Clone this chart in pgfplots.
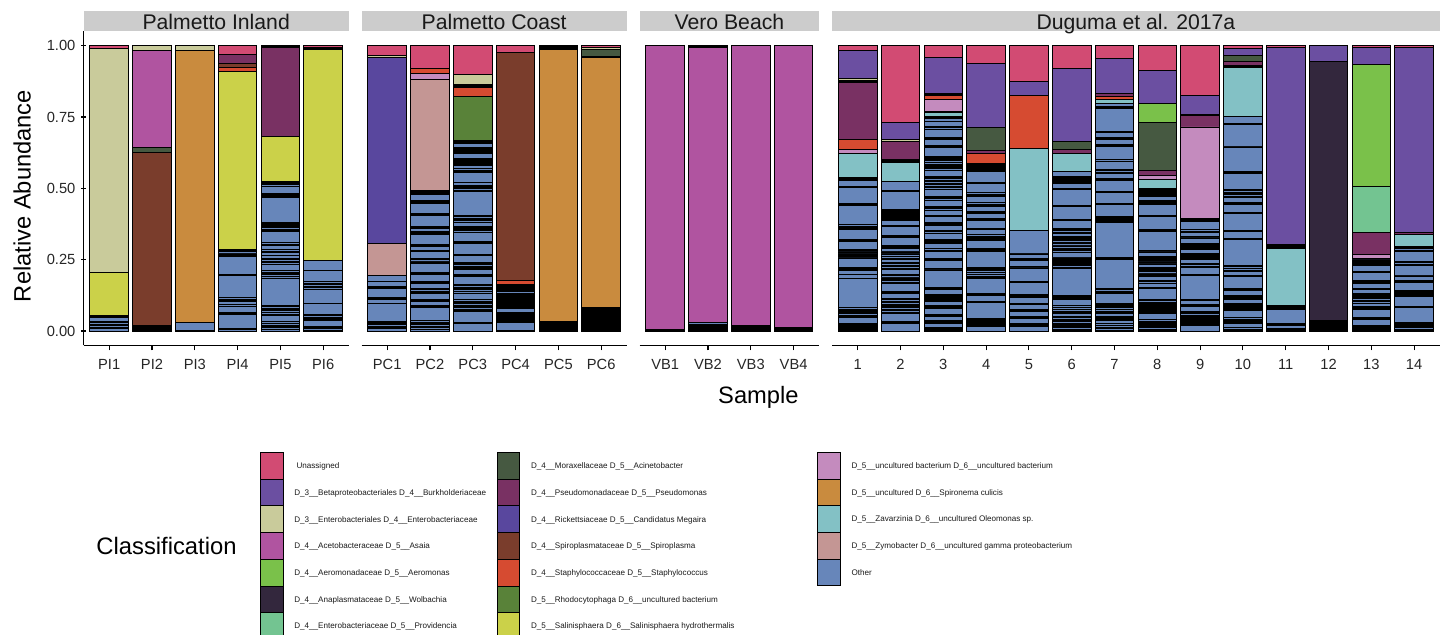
\documentclass[border=0pt]{standalone}
\usepackage{fontspec}
\setmainfont{Liberation Sans}
\usepackage{pgfplots}
\usepackage{pgfplotstable}
\pgfplotsset{compat=1.18}

\definecolor{cuna}{HTML}{D24B73}
\definecolor{cbet}{HTML}{6B4FA1}
\definecolor{cent}{HTML}{C9CB9B}
\definecolor{casa}{HTML}{B054A0}
\definecolor{caer}{HTML}{7AC14A}
\definecolor{cwol}{HTML}{33273D}
\definecolor{cpro}{HTML}{73C491}
\definecolor{caci}{HTML}{465941}
\definecolor{cpse}{HTML}{793163}
\definecolor{cmeg}{HTML}{59479E}
\definecolor{cspi}{HTML}{7A3D2C}
\definecolor{csta}{HTML}{D64B31}
\definecolor{crho}{HTML}{598239}
\definecolor{csal}{HTML}{CBD149}
\definecolor{cunc}{HTML}{C48BBE}
\definecolor{cspir}{HTML}{C98B3E}
\definecolor{czav}{HTML}{83C1C5}
\definecolor{czym}{HTML}{C49694}
\definecolor{coth}{HTML}{6786BA}

\newcount\pk
\newcount\pmax
\newcommand\setothers[2]{%
  \global\pk=0
  \foreach \v in {#2}{%
    \global\advance\pk by 1
    \expandafter\xdef\csname oth@#1@\the\pk\endcsname{\v}}%
  \expandafter\xdef\csname oth@#1@n\endcsname{\the\pk}}

\newcommand\drawothers[1]{%
  \global\pmax=0
  \foreach \bn in {#1}{%
    \ifnum\csname oth@\bn @n\endcsname>\pmax\relax
      \global\pmax=\csname oth@\bn @n\endcsname\relax
    \fi}%
  \edef\othlist{1,...,\the\pmax}%
  \expandafter\pgfplotsinvokeforeach\expandafter{\othlist}{%
    \gdef\coords{}%
    \foreach \bn [count=\i] in {#1}{%
      \ifcsname oth@\bn @##1\endcsname
        \xdef\coords{\coords (\i,\csname oth@\bn @##1\endcsname)}%
      \else
        \xdef\coords{\coords (\i,0)}%
      \fi}%
    \edef\tmp{\noexpand\addplot[oth] coordinates {\coords};}\tmp
  }%
}

\newcommand\drawnamed[1]{%
  \pgfplotsinvokeforeach{zym,zav,spir,unc,sal,rho,sta,spi,meg,pse,aci,pro,wol,aer,asa,ent,bet,una}{%
    \addplot[seg,fill=c##1] table[x=x,y=##1]{#1};}%
}

\newcommand\strip[1]{%
  \fill[black!20] (rel axis cs:0,1) rectangle ([yshift=10.3pt]rel axis cs:1,1)
    ([yshift=0.7pt]rel axis cs:0.5,1) node[anchor=base,inner sep=0pt,font=\fontsize{10.6}{12}\selectfont,text=black!90] {#1};
}

% ---------------- Palmetto Inland ----------------
\pgfplotstableread{
x zym zav spir unc sal rho sta spi meg pse aci pro wol aer asa ent bet una
1 0 0 0 0 0.152 0 0 0 0 0 0 0 0 0 0 0.784 0 0.010
2 0 0 0 0 0 0 0 0.606 0 0 0.017 0 0 0 0.342 0.016 0 0
3 0 0 0.952 0 0 0 0 0 0 0 0 0 0 0 0 0.018 0 0
4 0 0 0 0 0.625 0 0.012 0.015 0 0.031 0 0 0 0 0 0 0 0.031
5 0 0 0 0 0.160 0 0 0 0 0.311 0 0 0 0 0 0 0.003 0.003
6 0 0 0 0 0.741 0 0 0 0 0 0 0 0 0 0.004 0.004 0 0.005
}\tabPI
\setothers{PIa}{0.009,0.005,0.004,0.006,0.005,0.004,0.015,0.003,0.003}
\setothers{PIb}{0.003,0.002,0.002,0.003,0.002,0.002,0.002,0.003}
\setothers{PIc}{0.002,0.028}
\setothers{PId}{0.004,0.005,0.050,0.002,0.003,0.021,0.002,0.007,0.008,0.004,0.005,0.005,0.079,0.002,0.063,0.004,0.006,0.003,0.005,0.004,0.004}
\setothers{PIe}{0.004,0.003,0.006,0.003,0.004,0.008,0.004,0.003,0.020,0.004,0.005,0.008,0.004,0.003,0.008,0.004,0.095,0.004,0.003,0.005,0.004,0.003,0.007,0.021,0.006,0.004,0.009,0.003,0.011,0.008,0.004,0.008,0.015,0.003,0.005,0.041,0.004,0.003,0.005,0.003,0.004,0.003,0.004,0.003,0.088,0.004,0.003,0.004,0.003,0.027,0.004,0.004,0.003,0.004}
\setothers{PIf}{0.003,0.006,0.003,0.003,0.021,0.004,0.005,0.003,0.006,0.005,0.037,0.050,0.005,0.004,0.007,0.004,0.007,0.040,0.033}

% ---------------- Palmetto Coast ----------------
\pgfplotstableread{
x zym zav spir unc sal rho sta spi meg pse aci pro wol aer asa ent bet una
1 0.113 0 0 0 0 0 0 0 0.652 0 0 0 0 0 0 0.008 0 0.033
2 0.391 0 0 0.018 0 0 0.020 0 0 0 0 0 0 0 0 0 0 0.079
3 0 0 0 0 0 0.154 0.030 0 0.003 0.004 0.003 0 0 0 0 0.035 0 0.102
4 0 0 0 0 0 0 0.015 0.798 0 0 0 0 0 0 0 0 0 0.023
5 0 0 0.954 0 0 0 0 0.004 0 0 0 0 0 0 0 0.003 0.003 0.003
6 0 0 0.877 0 0 0 0 0 0 0.004 0.026 0 0 0 0 0.004 0 0.007
}\tabPC
\setothers{PCa}{0.009,0.003,0.003,0.009,0.004,0.003,0.004,0.063,0.012,0.003,0.003,0.033,0.003,0.003,0.018,0.021}
\setothers{PCb}{0.004,0.003,0.005,0.004,0.006,0.004,0.005,0.005,0.046,0.003,0.003,0.015,0.003,0.003,0.023,0.004,0.003,0.005,0.006,0.018,0.003,0.003,0.023,0.004,0.004,0.033,0.004,0.003,0.005,0.005,0.023,0.003,0.003,0.012,0.003,0.003,0.035,0.004,0.006,0.003,0.008,0.004,0.004,0.040,0.004,0.003,0.035,0.004,0.003,0.004,0.018,0.004,0.003,0.004,0.004}
\setothers{PCc}{0.025,0.002,0.003,0.039,0.004,0.003,0.006,0.003,0.004,0.008,0.003,0.004,0.005,0.003,0.021,0.004,0.003,0.005,0.003,0.006,0.004,0.004,0.029,0.003,0.003,0.018,0.004,0.003,0.006,0.004,0.005,0.004,0.023,0.003,0.003,0.036,0.003,0.004,0.034,0.004,0.005,0.003,0.004,0.004,0.012,0.003,0.004,0.005,0.003,0.006,0.005,0.084,0.004,0.006,0.003,0.005,0.004,0.008,0.035,0.004,0.004,0.006,0.012,0.002,0.003,0.002,0.003,0.002,0.003,0.002,0.003,0.003,0.003,0.015,0.002,0.003,0.002,0.003,0.003,0.002,0.003,0.002,0.003,0.012,0.004,0.004,0.005}
\setothers{PCd}{0.003,0.027,0.003,0.003,0.003,0.003,0.003,0.003,0.003,0.003,0.003,0.003,0.003,0.003,0.012,0.003,0.003,0.003,0.003,0.003,0.003,0.003,0.003,0.003,0.003,0.003,0.003,0.003,0.003,0.003,0.003,0.003,0.002,0.006,0.003,0.003,0.003,0.003,0.003,0.003,0.003,0.003,0.002}
\setothers{PCe}{0.003,0.003,0.003,0.003,0.003,0.003,0.003,0.003,0.003,0.003,0.003}
\setothers{PCf}{0.003,0.003,0.003,0.003,0.003,0.003,0.003,0.003,0.003,0.003,0.003,0.003,0.003,0.003,0.003,0.003,0.003,0.003,0.003,0.003,0.003,0.003,0.003,0.003,0.003,0.003,0.003}

% ---------------- Vero Beach ----------------
\pgfplotstableread{
x zym zav spir unc sal rho sta spi meg pse aci pro wol aer asa ent bet una
1 0 0 0 0 0 0 0 0 0 0 0 0 0 0 0.993 0 0 0
2 0 0 0 0 0 0 0 0 0 0 0 0 0 0 0.964 0 0.003 0.003
3 0 0 0 0 0 0 0 0 0 0 0 0 0 0 0.982 0 0 0
4 0 0 0 0 0 0 0 0 0 0 0 0 0 0 0.987 0 0 0
}\tabVB
\setothers{VBa}{0.003,0.004}
\setothers{VBb}{0.003,0.003,0.003,0.003,0.004,0.005,0.003,0.006}
\setothers{VBc}{0.003,0.003,0.003,0.003,0.003,0.003}
\setothers{VBd}{0.003,0.003,0.003,0.004}

% ---------------- Duguma et al. 2017a ----------------
\pgfplotstableread{
x zym zav spir unc sal rho sta spi meg pse aci pro wol aer asa ent bet una
1 0 0.082 0 0.016 0 0 0.035 0 0 0.199 0.003 0.003 0 0 0 0.009 0.097 0.017
2 0 0.067 0 0 0 0 0.004 0.003 0.003 0.063 0 0 0 0 0 0.007 0.060 0.269
3 0 0.014 0.005 0.041 0 0 0.013 0 0.004 0.004 0 0 0 0 0 0 0.126 0.042
4 0 0 0 0 0 0 0.035 0 0 0.012 0.078 0 0 0 0 0 0.224 0.064
5 0 0.286 0 0 0 0 0.186 0 0 0 0 0 0 0 0 0 0.048 0.126
6 0 0.061 0 0 0 0 0 0 0 0.014 0.030 0 0 0 0 0 0.256 0.079
7 0 0.016 0 0 0 0 0.009 0 0 0.012 0 0 0 0 0 0 0.120 0.046
8 0 0.033 0 0.012 0 0 0 0 0 0.020 0.166 0 0 0.068 0 0 0.114 0.088
9 0 0 0 0.319 0 0 0 0 0 0.040 0.003 0 0 0 0 0 0.067 0.175
10 0 0.173 0 0.003 0 0 0.003 0 0 0.014 0.021 0 0 0 0 0 0.026 0.009
11 0 0.202 0 0 0.003 0 0.003 0.004 0 0.004 0 0 0 0 0 0 0.689 0.007
12 0 0 0 0 0 0 0 0 0 0 0 0 0.908 0 0 0 0.054 0
13 0 0 0 0.014 0 0 0 0 0 0.077 0 0.160 0 0.429 0 0 0.058 0.007
14 0 0.044 0 0 0 0 0 0 0 0.005 0 0 0 0 0 0 0.648 0.008
}\tabD
\setothers{Da}{0.003,0.003,0.003,0.003,0.003,0.003,0.003,0.003,0.003,0.021,0.003,0.002,0.009,0.003,0.004,0.003,0.005,0.006,0.100,0.003,0.012,0.015,0.003,0.004,0.003,0.033,0.003,0.003,0.003,0.005,0.003,0.004,0.003,0.003,0.002,0.029,0.004,0.004,0.035,0.003,0.004,0.004,0.004,0.067,0.005,0.004,0.056,0.002,0.021,0.003,0.003,0.003,0.003}
\setothers{Db}{0.027,0.003,0.003,0.029,0.003,0.006,0.003,0.008,0.003,0.004,0.003,0.009,0.003,0.005,0.003,0.003,0.018,0.003,0.003,0.029,0.003,0.005,0.003,0.004,0.003,0.003,0.005,0.003,0.018,0.004,0.008,0.003,0.006,0.003,0.003,0.010,0.003,0.005,0.003,0.007,0.003,0.004,0.003,0.009,0.003,0.004,0.003,0.029,0.003,0.003,0.033,0.002,0.018,0.003,0.004,0.003,0.005,0.003,0.003,0.003,0.003,0.003,0.003,0.003,0.003,0.063,0.002,0.033}
\setothers{Dc}{0.003,0.003,0.003,0.003,0.014,0.003,0.004,0.003,0.014,0.004,0.005,0.021,0.004,0.003,0.004,0.014,0.003,0.004,0.003,0.003,0.004,0.003,0.003,0.018,0.004,0.004,0.060,0.003,0.004,0.026,0.003,0.003,0.027,0.004,0.004,0.018,0.003,0.004,0.003,0.004,0.023,0.005,0.004,0.018,0.003,0.004,0.005,0.018,0.003,0.003,0.018,0.004,0.004,0.004,0.023,0.004,0.004,0.004,0.026,0.005,0.004,0.006,0.004,0.008,0.005,0.004,0.004,0.004,0.023,0.004,0.004,0.004,0.005,0.003,0.007,0.006,0.003,0.004,0.003,0.004,0.033,0.002,0.003,0.023,0.003,0.004,0.028,0.005,0.004,0.017,0.012,0.003,0.003}
\setothers{Dd}{0.015,0.003,0.004,0.003,0.005,0.003,0.004,0.004,0.003,0.056,0.002,0.023,0.003,0.003,0.053,0.004,0.003,0.006,0.003,0.004,0.003,0.005,0.003,0.004,0.004,0.055,0.004,0.004,0.004,0.027,0.003,0.005,0.004,0.004,0.004,0.020,0.003,0.029,0.003,0.003,0.018,0.003,0.003,0.018,0.004,0.004,0.004,0.023,0.004,0.004,0.004,0.033,0.002,0.041,0.003,0.003,0.004,0.003,0.003,0.004,0.003,0.004}
\setothers{De}{0.015,0.004,0.004,0.004,0.016,0.003,0.004,0.018,0.003,0.003,0.018,0.003,0.003,0.018,0.004,0.004,0.004,0.041,0.003,0.003,0.046,0.002,0.003,0.022,0.003,0.003,0.014,0.002,0.003,0.081}
\setothers{Df}{0.003,0.004,0.006,0.003,0.005,0.003,0.004,0.007,0.003,0.004,0.005,0.003,0.012,0.003,0.004,0.005,0.003,0.004,0.003,0.004,0.003,0.020,0.003,0.004,0.004,0.004,0.093,0.003,0.008,0.003,0.004,0.003,0.005,0.003,0.004,0.004,0.003,0.018,0.004,0.006,0.003,0.008,0.003,0.005,0.003,0.007,0.004,0.003,0.004,0.003,0.012,0.004,0.005,0.004,0.004,0.027,0.002,0.003,0.044,0.003,0.003,0.055,0.003,0.018,0.003,0.003,0.003,0.003,0.003,0.003,0.003,0.003,0.019}
\setothers{Dg}{0.003,0.005,0.004,0.006,0.003,0.004,0.003,0.008,0.003,0.004,0.004,0.003,0.012,0.003,0.005,0.004,0.003,0.006,0.003,0.004,0.003,0.004,0.035,0.004,0.004,0.005,0.004,0.103,0.003,0.003,0.122,0.003,0.004,0.003,0.004,0.003,0.004,0.041,0.003,0.003,0.037,0.003,0.041,0.003,0.003,0.018,0.004,0.004,0.004,0.028,0.003,0.004,0.047,0.003,0.003,0.018,0.003,0.003,0.020,0.003,0.081,0.003,0.004,0.009}
\setothers{Dh}{0.003,0.004,0.006,0.003,0.004,0.003,0.005,0.003,0.004,0.004,0.023,0.003,0.003,0.003,0.003,0.003,0.003,0.003,0.003,0.005,0.003,0.004,0.003,0.005,0.003,0.040,0.002,0.003,0.014,0.004,0.005,0.014,0.004,0.005,0.003,0.006,0.003,0.004,0.004,0.004,0.008,0.003,0.003,0.004,0.003,0.003,0.004,0.003,0.003,0.003,0.016,0.002,0.003,0.067,0.003,0.003,0.047,0.002,0.039,0.003,0.003,0.006,0.003,0.014,0.003,0.003,0.003,0.003,0.003,0.003,0.003,0.003,0.003}
\setothers{Di}{0.018,0.004,0.005,0.003,0.003,0.003,0.003,0.003,0.003,0.003,0.003,0.002,0.009,0.003,0.003,0.018,0.003,0.003,0.015,0.002,0.003,0.082,0.003,0.027,0.004,0.005,0.005,0.012,0.003,0.004,0.003,0.005,0.003,0.003,0.014,0.003,0.004,0.004,0.005,0.003,0.004,0.018,0.003,0.003,0.014,0.004,0.005,0.029,0.004,0.004,0.004}
\setothers{Dj}{0.003,0.004,0.004,0.015,0.003,0.005,0.004,0.003,0.005,0.003,0.023,0.003,0.004,0.005,0.003,0.004,0.003,0.004,0.012,0.004,0.004,0.003,0.004,0.018,0.003,0.003,0.043,0.003,0.015,0.003,0.005,0.003,0.005,0.004,0.092,0.003,0.023,0.003,0.003,0.058,0.003,0.029,0.003,0.003,0.018,0.002,0.009,0.004,0.004,0.005,0.005,0.055,0.003,0.004,0.086,0.003,0.075,0.003,0.025}
\setothers{Dk}{0.003,0.003,0.003,0.012,0.003,0.003,0.049,0.003,0.003,0.003,0.003}
\setothers{Dl}{0.002,0.003,0.003,0.003,0.003,0.003,0.003,0.003,0.003,0.003,0.003,0.003,0.003}
\setothers{Dm}{0.003,0.003,0.003,0.003,0.003,0.003,0.003,0.018,0.004,0.005,0.026,0.004,0.006,0.003,0.008,0.003,0.005,0.003,0.007,0.003,0.004,0.003,0.005,0.004,0.012,0.003,0.003,0.018,0.003,0.003,0.003,0.028,0.003,0.023,0.003,0.003,0.003,0.003,0.003,0.003,0.003,0.003}
\setothers{Dn}{0.003,0.003,0.005,0.003,0.003,0.003,0.003,0.003,0.003,0.053,0.003,0.035,0.003,0.004,0.005,0.003,0.004,0.004,0.027,0.003,0.003,0.014,0.003,0.003,0.035,0.004,0.004,0.004,0.035,0.003,0.008,0.003,0.003}

\pgfplotsset{
  seg/.style={draw=black, line width=0.45pt},
  oth/.style={seg, fill=coth},
  panel/.style={
    ybar stacked, bar width=0.9, scale only axis, height=156.95pt,
    ymin=-0.05, ymax=1.05, clip=false, anchor=north west,
    enlarge x limits=false,
    axis x line=bottom,
    tick align=outside, major tick length=2.5pt,
    tick style={black, line width=0.55pt},
    tick label style={font=\fontsize{7.35}{8}\selectfont, text=black!85, inner sep=0pt},
    xticklabel style={anchor=base, yshift=-9.45pt},
    yticklabel style={anchor=east, xshift=-2.6pt},
  },
  panelfix/.style={
    axis line style={-, line width=0.65pt, black},
    every outer x axis line/.append style={-},
    every outer y axis line/.append style={-},
    x axis line style={-}, y axis line style={-},
  },
  legcol/.style={
    hide axis, scale only axis, width=5pt, height=5pt,
    xmin=0, xmax=1, ymin=0, ymax=1, anchor=north west,
    legend cell align=left,
    legend image code/.code={\draw[##1, draw=black, line width=0.4pt] (0pt,-6.25pt) rectangle (11.25pt,7.1pt);},
    legend style={at={(0,1)}, anchor=north west, draw=none, fill=none,
      inner sep=0pt, outer sep=0pt, row sep=-0.4pt, column sep=5.5pt,
      font=\fontsize{4.05}{5}\selectfont,
      nodes={inner sep=0pt, outer sep=0pt, text=black!90, text height=3pt, text depth=1pt}},
  },
}

\begin{document}
\begin{tikzpicture}
\useasboundingbox (0,0) rectangle (723pt,-317.5pt);

\begin{axis}[panel, at={(41.75pt,-15.7pt)}, width=132.7pt,
  xmin=0.4, xmax=6.6, xtick={1,2,3,4,5,6}, xticklabels={PI1,PI2,PI3,PI4,PI5,PI6},
  axis y line=left, ytick={0,0.25,0.5,0.75,1}, yticklabels={0.00,0.25,0.50,0.75,1.00}, panelfix]
\drawothers{PIa,PIb,PIc,PId,PIe,PIf}
\drawnamed{\tabPI}
\strip{Palmetto Inland}
\end{axis}

\begin{axis}[panel, at={(180.75pt,-15.7pt)}, width=132.7pt,
  xmin=0.4, xmax=6.6, xtick={1,2,3,4,5,6}, xticklabels={PC1,PC2,PC3,PC4,PC5,PC6},
  axis y line=none, ytick=\empty, panelfix]
\drawothers{PCa,PCb,PCc,PCd,PCe,PCf}
\drawnamed{\tabPC}
\strip{Palmetto Coast}
\end{axis}

\begin{axis}[panel, at={(319.75pt,-15.7pt)}, width=89.9pt,
  xmin=0.4, xmax=4.6, xtick={1,2,3,4}, xticklabels={VB1,VB2,VB3,VB4},
  axis y line=none, ytick=\empty, panelfix]
\drawothers{VBa,VBb,VBc,VBd}
\drawnamed{\tabVB}
\strip{Vero Beach}
\end{axis}

\begin{axis}[panel, at={(416pt,-15.7pt)}, width=303.9pt,
  xmin=0.4, xmax=14.6, xtick={1,2,3,4,5,6,7,8,9,10,11,12,13,14},
  xticklabels={1,2,3,4,5,6,7,8,9,10,11,12,13,14},
  axis y line=none, ytick=\empty, panelfix]
\drawothers{Da,Db,Dc,Dd,De,Df,Dg,Dh,Di,Dj,Dk,Dl,Dm,Dn}
\drawnamed{\tabD}
\strip{Duguma et al. 2017a}
\end{axis}

\node[rotate=90, anchor=base, inner sep=0pt, font=\fontsize{11.85}{14}\selectfont] at (15.3pt,-98pt) {Relative Abundance};
\node[anchor=base, inner sep=0pt, font=\fontsize{11.85}{14}\selectfont] at (379.2pt,-202pt) {Sample};
\node[anchor=base west, inner sep=0pt, font=\fontsize{11.9}{14}\selectfont] at (48pt,-277.5pt) {Classification};

\begin{axis}[legcol, at={(130pt,-226pt)}]
\addlegendimage{fill=cuna}\addlegendentry{\hspace{1.1pt}Unassigned}
\addlegendimage{fill=cbet}\addlegendentry{D\_3\_\_Betaproteobacteriales D\_4\_\_Burkholderiaceae}
\addlegendimage{fill=cent}\addlegendentry{D\_3\_\_Enterobacteriales D\_4\_\_Enterobacteriaceae}
\addlegendimage{fill=casa}\addlegendentry{D\_4\_\_Acetobacteraceae D\_5\_\_Asaia}
\addlegendimage{fill=caer}\addlegendentry{D\_4\_\_Aeromonadaceae D\_5\_\_Aeromonas}
\addlegendimage{fill=cwol}\addlegendentry{D\_4\_\_Anaplasmataceae D\_5\_\_Wolbachia}
\addlegendimage{fill=cpro}\addlegendentry{D\_4\_\_Enterobacteriaceae D\_5\_\_Providencia}
\end{axis}

\begin{axis}[legcol, at={(248.35pt,-226pt)}]
\addlegendimage{fill=caci}\addlegendentry{D\_4\_\_Moraxellaceae D\_5\_\_Acinetobacter}
\addlegendimage{fill=cpse}\addlegendentry{D\_4\_\_Pseudomonadaceae D\_5\_\_Pseudomonas}
\addlegendimage{fill=cmeg}\addlegendentry{D\_4\_\_Rickettsiaceae D\_5\_\_Candidatus Megaira}
\addlegendimage{fill=cspi}\addlegendentry{D\_4\_\_Spiroplasmataceae D\_5\_\_Spiroplasma}
\addlegendimage{fill=csta}\addlegendentry{D\_4\_\_Staphylococcaceae D\_5\_\_Staphylococcus}
\addlegendimage{fill=crho}\addlegendentry{D\_5\_\_Rhodocytophaga D\_6\_\_uncultured bacterium}
\addlegendimage{fill=csal}\addlegendentry{D\_5\_\_Salinisphaera D\_6\_\_Salinisphaera hydrothermalis}
\end{axis}

\begin{axis}[legcol, at={(408.65pt,-226pt)}]
\addlegendimage{fill=cunc}\addlegendentry{D\_5\_\_uncultured bacterium D\_6\_\_uncultured bacterium}
\addlegendimage{fill=cspir}\addlegendentry{D\_5\_\_uncultured D\_6\_\_Spironema culicis}
\addlegendimage{fill=czav}\addlegendentry{D\_5\_\_Zavarzinia D\_6\_\_uncultured Oleomonas sp.}
\addlegendimage{fill=czym}\addlegendentry{D\_5\_\_Zymobacter D\_6\_\_uncultured gamma proteobacterium}
\addlegendimage{fill=coth}\addlegendentry{Other}
\end{axis}

\end{tikzpicture}
\end{document}
